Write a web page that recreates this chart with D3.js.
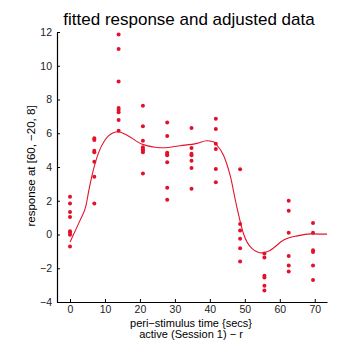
<!DOCTYPE html>
<html><head><meta charset="utf-8">
<script src="https://cdn.jsdelivr.net/npm/d3@7"></script>
<style>body{margin:0;background:#fff}svg{display:block}</style>
</head><body>
<script>
// ---- data ----
const times = [0, 6.95, 13.9, 20.85, 27.8, 34.75, 41.7, 48.65, 55.6, 62.55, 69.5];
const values = [
  [2.24, 1.84, 1.33, 1.04, 0.20, 0.10, -0.02, -0.71],
  [5.70, 5.60, 4.96, 4.87, 4.31, 3.42, 1.84],
  [11.85, 11.0, 9.06, 7.50, 7.38, 7.25, 6.78, 6.15],
  [7.63, 6.41, 5.56, 5.17, 5.05, 4.96, 4.87, 3.62],
  [6.63, 5.84, 4.85, 4.77, 4.69, 4.28, 2.77, 2.06],
  [6.31, 5.12, 4.79, 4.69, 4.37, 3.94, 2.71],
  [6.86, 6.25, 5.38, 5.07, 3.88, 3.09],
  [3.86, 0.62, 0.24, -0.25, -0.81, -1.60],
  [-1.12, -1.36, -2.45, -2.55, -3.04, -3.32],
  [2.00, 1.41, 0.10, -1.28, -1.83, -2.19],
  [0.68, 0.10, -0.93, -1.03, -1.83, -2.69]
];
const curveT = [0, 1, 2.9, 4.6, 5.4, 6.2, 8.1, 10, 12.4, 13.8, 16.2, 20.5, 24.4, 26.7, 31.5, 36.3, 39.1, 41.0, 42.0, 43.9, 45.8, 47.7, 49.6, 52.0, 54.9, 57.3, 61.1, 65.0, 68.8, 73.5];
const curveV = [-0.45, 0.0, 0.85, 1.74, 2.63, 3.42, 4.81, 5.6, 6.03, 6.09, 5.9, 5.36, 5.17, 5.14, 5.26, 5.40, 5.56, 5.50, 5.30, 4.7, 3.5, 1.64, 0.06, -0.82, -1.09, -0.93, -0.33, -0.08, 0.04, 0.02];
const xTicks = [0, 10, 20, 30, 40, 50, 60, 70];
const yTicks = [-4, -2, 0, 2, 4, 6, 8, 10, 12];
const titleText = "fitted response and adjusted data";
const yLabel = "response at [60, \u221220, 8]";
const xLabel1 = "peri\u2212stimulus time {secs}";
const xLabel2 = "active (Session 1) \u2212 r";

// ---- layout ----
const W = 355, H = 358;
const L = 57, R = 327, T = 32, B = 302;
const red = "#e3122c";
const font = "'Liberation Sans', Arial, sans-serif";

const svg = d3.select("body").append("svg").attr("width", W).attr("height", H);
const x = d3.scaleLinear().domain([-3.72, 73.5]).range([L, R]);
const y = d3.scaleLinear().domain([-4, 12]).range([B, T]);

// axes (ticks inward)
const gx = svg.append("g").attr("transform", `translate(0,${B})`)
  .call(d3.axisBottom(x).tickValues(xTicks).tickSizeInner(-3).tickSizeOuter(0).tickPadding(4));
const gy = svg.append("g").attr("transform", `translate(${L},0)`)
  .call(d3.axisLeft(y).tickValues(yTicks).tickSizeInner(-3).tickSizeOuter(0).tickPadding(5));
[gx, gy].forEach(g => {
  g.select(".domain").attr("stroke", "#000").attr("stroke-width", 1.2);
  g.selectAll(".tick line").attr("stroke", "#000");
  g.selectAll(".tick text").attr("font-family", font).attr("font-size", 10.5).attr("fill", "#222");
});

// fitted curve
const line = d3.line().x((d, i) => x(curveT[i])).y(d => y(d)).curve(d3.curveMonotoneX);
svg.append("path").datum(curveV).attr("d", line)
  .attr("fill", "none").attr("stroke", red).attr("stroke-width", 1.1);

// points
const pts = [];
values.forEach((col, i) => col.forEach(v => pts.push([times[i], v])));
svg.append("g").selectAll("circle").data(pts).join("circle")
  .attr("cx", d => x(d[0])).attr("cy", d => y(d[1])).attr("r", 2).attr("fill", red);

// texts
svg.append("text").attr("x", 189).attr("y", 25).attr("text-anchor", "middle")
  .attr("font-family", font).attr("font-size", 17).attr("fill", "#000").text(titleText);
svg.append("text").attr("transform", `translate(35,166) rotate(-90)`).attr("text-anchor", "middle")
  .attr("font-family", font).attr("font-size", 11.5).attr("fill", "#000").text(yLabel);
svg.append("text").attr("x", 191).attr("y", 327).attr("text-anchor", "middle")
  .attr("font-family", font).attr("font-size", 11).attr("fill", "#000").text(xLabel1);
svg.append("text").attr("x", 191).attr("y", 338).attr("text-anchor", "middle")
  .attr("font-family", font).attr("font-size", 11).attr("fill", "#000").text(xLabel2);
</script>
</body></html>
